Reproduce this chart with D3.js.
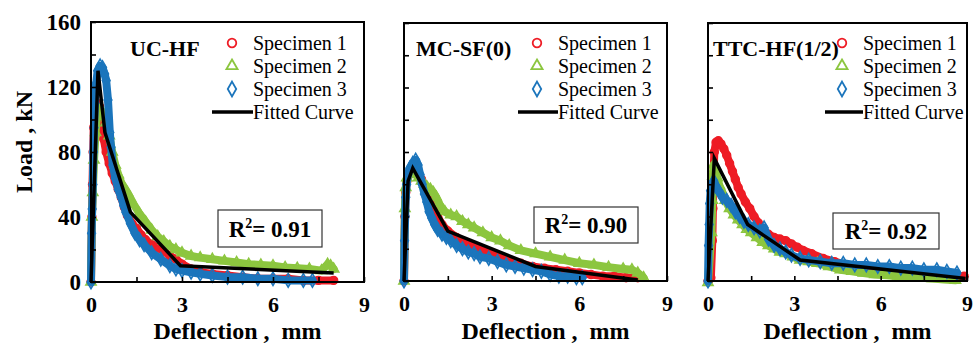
<!DOCTYPE html>
<html>
<head>
<meta charset="utf-8">
<script src="https://cdn.jsdelivr.net/npm/d3@7"></script>
<style>
  body { margin: 0; background: #fff; }
  svg { display: block; }
  svg text { font-family: "Liberation Serif", "Times New Roman", serif; fill: #000; }
</style>
</head>
<body>
<svg id="chart" width="976" height="343"></svg>
<script>
// ---- data (deflection mm, load kN) ----
var ucS1 = [[0,0],[0.03,40],[0.05,60],[0.07,80],[0.09,95],[0.13,105],[0.2,110],[0.28,108],[0.35,98],[0.42,88],[0.5,80],[0.6,73],[0.7,67],[0.8,62],[0.9,57],[1.0,52],[1.1,46],[1.2,41],[1.35,36],[1.5,33],[1.65,29],[1.8,26],[2.0,23],[2.2,21],[2.4,19],[2.6,16],[2.8,14],[3.0,11],[3.3,8],[3.6,6],[4.0,5],[4.5,4],[5.0,3],[5.5,2],[6.0,2],[6.5,2],[7.0,1],[7.5,1],[8.0,1]];
var ucS2 = [[0,0],[0.03,40],[0.06,55],[0.1,75],[0.15,92],[0.2,102],[0.3,106],[0.4,104],[0.5,98],[0.6,90],[0.7,80],[0.8,72],[0.9,66],[1.0,61],[1.2,55],[1.4,48],[1.6,42],[1.8,37],[2.0,32],[2.2,28],[2.4,25],[2.6,22],[2.8,20],[3.0,18],[3.3,16],[3.6,15],[4.0,14],[4.4,13],[4.8,12],[5.2,11],[5.6,10.5],[6.0,10],[6.4,9],[6.8,8.5],[7.2,8],[7.6,7],[7.8,11],[7.9,10],[8.0,8]];
var ucS3 = [[0,0],[0.02,30],[0.04,45],[0.06,60],[0.08,80],[0.1,95],[0.13,110],[0.17,122],[0.22,130],[0.3,133],[0.38,132],[0.45,128],[0.5,124],[0.56,112],[0.62,92],[0.66,83],[0.72,72],[0.8,64],[0.9,57],[1.0,52],[1.08,47],[1.15,43],[1.3,36],[1.45,30],[1.6,26],[1.75,23],[2.0,18],[2.3,14],[2.6,10],[2.8,8],[3.0,7],[3.3,6],[3.6,5],[4.0,4],[4.5,3],[5.0,3],[5.5,2],[6.0,2],[6.5,1],[7.0,1],[7.3,1]];
var ucFit = [[0,0],[0.23,130],[0.46,92],[1.3,43],[2.95,10],[8.0,5.5]];

var mcS1 = [[0,0],[0.03,40],[0.06,55],[0.1,62],[0.2,68],[0.3,70],[0.45,68],[0.6,63],[0.75,58],[0.9,50],[1.0,46],[1.15,40],[1.3,35],[1.5,31],[1.8,27],[2.1,24],[2.4,21],[2.7,19],[3.0,17],[3.3,15],[3.6,13],[4.0,11],[4.4,9],[4.8,8],[5.2,7],[5.6,6],[6.0,5],[6.4,4],[6.8,3],[7.2,3],[7.6,2],[8.0,2]];
var mcS2 = [[0,0],[0.03,45],[0.06,58],[0.1,64],[0.2,68],[0.3,68],[0.4,66],[0.5,64],[0.6,62],[0.7,60],[0.8,58],[0.9,57],[1.0,55],[1.1,52],[1.2,48],[1.3,45],[1.4,43],[1.6,41],[1.8,40],[2.0,37],[2.2,35],[2.4,33],[2.7,30],[3.0,27],[3.3,25],[3.6,22],[4.0,19],[4.5,17],[5.0,15],[5.5,13],[6.0,11],[6.5,10],[7.0,8.5],[7.5,7.5],[7.8,7],[8.0,5],[8.2,2]];
var mcS3 = [[0,0],[0.02,25],[0.04,40],[0.06,52],[0.09,60],[0.13,66],[0.2,70],[0.3,73],[0.4,75],[0.48,72],[0.55,66],[0.62,60],[0.7,54],[0.78,49],[0.86,43],[0.95,39],[1.05,35],[1.15,32],[1.3,29],[1.45,27],[1.6,25],[1.8,22],[2.0,20],[2.2,18],[2.4,17],[2.6,15],[2.9,14],[3.2,12],[3.5,10],[3.8,9],[4.1,8],[4.4,7],[4.7,6],[5.0,4],[5.3,3],[5.6,3],[5.9,2],[6.1,2]];
var mcFit = [[0,0],[0.14,62],[0.3,70],[1.5,31],[4.5,9],[8.0,0.6]];

var ttcS1 = [[0,0],[0.1,2],[0.15,25],[0.17,45],[0.19,65],[0.22,80],[0.28,86],[0.36,87],[0.45,85],[0.55,82],[0.65,78],[0.75,73],[0.85,68],[0.95,63],[1.05,58],[1.15,54],[1.3,49],[1.45,45],[1.6,40],[1.75,36],[1.9,32],[2.1,29],[2.3,27],[2.5,26],[2.7,25],[2.9,23],[3.1,21],[3.3,19],[3.6,17],[4.0,14],[4.4,12],[4.8,10],[5.2,8],[5.6,7],[6.0,6],[6.5,5],[7.0,4],[7.5,4],[7.9,3],[8.3,3],[8.9,3]];
var ttcS2 = [[0,-1],[0.12,30],[0.15,50],[0.17,65],[0.2,72],[0.25,70],[0.32,64],[0.4,59],[0.5,55],[0.6,50],[0.75,45],[0.9,41],[1.05,38],[1.2,35],[1.35,32],[1.5,30],[1.7,27],[1.9,24],[2.1,22],[2.3,20],[2.5,18],[2.7,17],[2.95,15],[3.2,13],[3.5,12],[3.8,11],[4.2,9],[4.6,7],[5.0,6],[5.4,5],[5.8,4],[6.2,3.5],[6.6,3],[7.0,2.5],[7.4,2],[7.8,1.5],[8.2,1],[8.6,0.5]];
var ttcS3 = [[0,0],[0.02,22],[0.04,35],[0.06,48],[0.09,56],[0.14,60],[0.2,62],[0.3,58],[0.4,55],[0.5,52],[0.65,50],[0.8,47],[0.95,43],[1.1,40],[1.25,37],[1.4,35],[1.6,33],[1.8,31],[1.95,33],[2.1,26],[2.3,22],[2.5,20],[2.7,18],[2.9,16],[3.2,14],[3.5,13],[3.9,12],[4.3,11],[4.7,11],[5.1,10],[5.5,10],[5.9,9],[6.3,9],[6.7,8],[7.1,8],[7.5,7],[7.95,7],[8.3,6],[8.65,5]];
var ttcFit = [[0,0],[0.22,76],[1.38,35],[3.2,13],[8.95,1.5]];

var panelNames = ["UC-HF", "MC-SF(0)", "TTC-HF(1/2)"];
var r2Labels = ["0.91", "0.90", "0.92"];
var seriesNames = ["Specimen 1", "Specimen 2", "Specimen 3"];
var fitName = "Fitted Curve";
var xTicks = [0, 1.5, 3, 4.5, 6, 7.5, 9];
var yTicks = [0, 20, 40, 60, 80, 100, 120, 140, 160];

// ---- styling / layout ----
var colors = ["#ee1c25", "#8cc63f", "#1b75bc"];
var shapes = [d3.symbolCircle, d3.symbolTriangle, d3.symbolDiamond];
var shapeSize = [48, 44, 52];
var font = '"Liberation Serif", "Times New Roman", serif';

var boxes = [
  {left: 91, right: 364, top: 22, bottom: 282, title: 130, legMark: 232, legText: 253, legLine: 212, r2: [218, 210, 104, 37]},
  {left: 404, right: 667, top: 23, bottom: 281, title: 416, legMark: 537, legText: 558, legLine: 518, r2: [534, 207, 104, 36]},
  {left: 708, right: 967, top: 23, bottom: 281, title: 713, legMark: 842, legText: 863, legLine: 825, r2: [833, 213, 106, 36]}
];
var panelData = [
  [ucS1, ucS2, ucS3, ucFit],
  [mcS1, mcS2, mcS3, mcFit],
  [ttcS1, ttcS2, ttcS3, ttcFit]
];

var svg = d3.select("#chart");

boxes.forEach(function(b, p) {
  var x = d3.scaleLinear().domain([0, 9]).range([b.left, b.right]);
  var y = d3.scaleLinear().domain([0, 160]).range([b.bottom, b.top]);
  var g = svg.append("g");
  var line = d3.line().x(function(d) { return x(d[0]); }).y(function(d) { return y(d[1]); });

  // specimen data: dense bands of hollow markers
  for (var s = 0; s < 3; s++) {
    var pts = panelData[p][s];
    g.append("path")
      .attr("d", line(pts))
      .attr("fill", "none")
      .attr("stroke", colors[s])
      .attr("stroke-width", 8)
      .attr("stroke-linejoin", "round")
      .attr("stroke-linecap", "round");
    g.selectAll("path.m" + s)
      .data(pts)
      .enter()
      .append("path")
      .attr("class", "m" + s)
      .attr("d", d3.symbol().type(shapes[s]).size(shapeSize[s]))
      .attr("transform", function(d) { return "translate(" + x(d[0]) + "," + y(d[1]) + ")"; })
      .attr("fill", "none")
      .attr("stroke", colors[s])
      .attr("stroke-width", 1.6);
  }

  // fitted curve
  g.append("path")
    .attr("d", line(panelData[p][3]))
    .attr("fill", "none")
    .attr("stroke", "#000")
    .attr("stroke-width", 3.5)
    .attr("stroke-linejoin", "miter");

  // axes with inward ticks
  var yAxis = d3.axisLeft(y).tickValues(yTicks).tickSize(-5).tickPadding(10)
    .tickFormat(function(d) { return (p === 0 && d % 40 === 0) ? d : ""; });
  var ya = g.append("g").attr("transform", "translate(" + b.left + ",0)").call(yAxis)
    .attr("font-family", font);
  ya.select(".domain").remove();
  ya.selectAll("line").attr("stroke", "#000").attr("stroke-width", 1.6);
  ya.selectAll("text")
    .attr("x", -10)
    .attr("font-weight", "bold").attr("font-size", 23);

  var xAxis = d3.axisBottom(x).tickValues(xTicks).tickSize(-5)
    .tickFormat(function(d) { return d % 3 === 0 ? d : ""; });
  var xa = g.append("g").attr("transform", "translate(0," + b.bottom + ")").call(xAxis)
    .attr("font-family", font);
  xa.select(".domain").remove();
  xa.selectAll("line").attr("stroke", "#000").attr("stroke-width", 1.6);
  xa.selectAll("text")
    .attr("y", 30).attr("dy", 0)
    .attr("font-weight", "bold").attr("font-size", 22);

  // frame
  g.append("rect")
    .attr("x", b.left).attr("y", b.top)
    .attr("width", b.right - b.left).attr("height", b.bottom - b.top)
    .attr("fill", "none").attr("stroke", "#000").attr("stroke-width", 2);

  // panel name
  g.append("text")
    .attr("x", b.title).attr("y", 56)
    .attr("font-weight", "bold").attr("font-size", 22)
    .text(panelNames[p]);

  // legend
  var rows = [43, 66, 89, 112];
  for (var k = 0; k < 3; k++) {
    g.append("path")
      .attr("d", d3.symbol().type(shapes[k]).size(shapeSize[k] + 10))
      .attr("transform", "translate(" + b.legMark + "," + rows[k] + ")")
      .attr("fill", "none").attr("stroke", colors[k]).attr("stroke-width", 1.8);
    g.append("text")
      .attr("x", b.legText).attr("y", rows[k] + 7)
      .attr("font-size", 20)
      .text(seriesNames[k]);
  }
  g.append("line")
    .attr("x1", b.legLine).attr("x2", b.legText)
    .attr("y1", rows[3]).attr("y2", rows[3])
    .attr("stroke", "#000").attr("stroke-width", 3.5);
  g.append("text")
    .attr("x", b.legText).attr("y", rows[3] + 7)
    .attr("font-size", 20)
    .text(fitName);

  // R squared box
  g.append("rect")
    .attr("x", b.r2[0]).attr("y", b.r2[1])
    .attr("width", b.r2[2]).attr("height", b.r2[3])
    .attr("fill", "#fff").attr("stroke", "#333").attr("stroke-width", 1.2);
  var rt = g.append("text")
    .attr("x", b.r2[0] + b.r2[2] / 2).attr("y", b.r2[1] + b.r2[3] / 2 + 8)
    .attr("text-anchor", "middle")
    .attr("font-weight", "bold").attr("font-size", 23);
  rt.append("tspan").text("R");
  rt.append("tspan").attr("dy", -9).attr("font-size", 14).text("2");
  rt.append("tspan").attr("dy", 9).text("= " + r2Labels[p]);

  // x axis title
  g.append("text")
    .attr("x", (b.left + b.right) / 2 + 10).attr("y", 339)
    .attr("text-anchor", "middle")
    .attr("font-weight", "bold").attr("font-size", 24)
    .attr("xml:space", "preserve")
    .text("Deflection ,  mm");
});

// y axis title
svg.append("text")
  .attr("transform", "translate(32,142)rotate(-90)")
  .attr("text-anchor", "middle")
  .attr("font-weight", "bold").attr("font-size", 24)
  .text("Load , kN");
</script>
</body>
</html>
